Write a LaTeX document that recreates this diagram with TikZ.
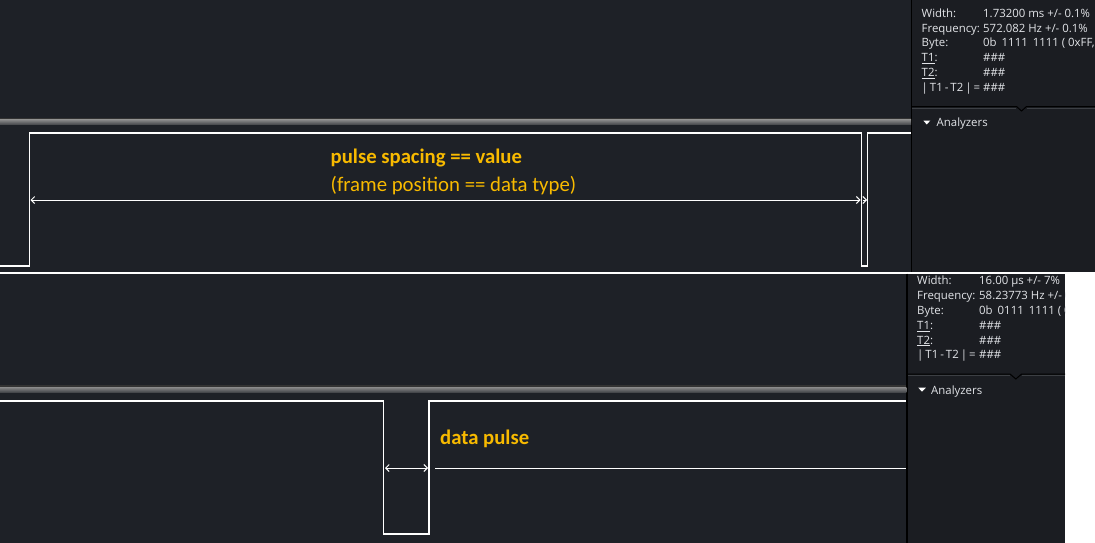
\documentclass[tikz,border=0pt]{standalone}
\usepackage{fontspec}
\setmainfont{Open Sans}
\newfontfamily\calib{Carlito}
\usetikzlibrary{arrows.meta}
\definecolor{bgdark}{RGB}{30,33,39}
\definecolor{paneldark}{RGB}{27,29,34}
\definecolor{gold}{RGB}{248,186,0}
\definecolor{paneltext}{RGB}{226,228,232}
\definecolor{barlight}{RGB}{140,140,140}
\definecolor{bardark}{RGB}{70,72,76}
\definecolor{sepline}{RGB}{60,63,68}
\newcommand{\sk}{\hspace{2pt}}
\newcommand{\bsk}{\hspace{5pt}}
\tikzset{
  sig/.style={draw=white, line width=1.1pt},
  meas/.style={draw=white, line width=1pt},
  tipboth/.style={meas, {Straight Barb[length=3.5pt,width=7pt]}-{Straight Barb[length=3.5pt,width=7pt]}},
  tipright/.style={meas, -{Straight Barb[length=3.5pt,width=7pt]}},
  lbl/.style={anchor=base west, inner sep=0pt, text=paneltext, font=\fontsize{11.4}{13}\selectfont},
  goldbold/.style={anchor=base west, inner sep=0pt, text=gold, font=\calib\bfseries\fontsize{20.7}{24}\selectfont},
  goldreg/.style={anchor=base west, inner sep=0pt, text=gold, font=\calib\fontsize{20.8}{24}\selectfont},
  anz/.style={anchor=base west, inner sep=0pt, text=paneltext, font=\fontsize{11.4}{13}\selectfont},
}
\begin{document}
\begin{tikzpicture}[x=1pt,y=-1pt]
\useasboundingbox (0,0) rectangle (1095,543);
\fill[white] (0,0) rectangle (1095,543);
% ---------- top screenshot ----------
\fill[bgdark] (0,0) rectangle (1095,272);
\fill[paneldark] (911,0) rectangle (1095,272);
\draw[black, line width=1.2pt] (911.5,0) -- (911.5,272);
\fill[black!80] (0,117.5) rectangle (911,119.5);
\shade[top color=barlight, bottom color=bardark] (0,119.5) rectangle (911,124.5);
% panel separator with notch
\draw[black, line width=1pt] (911,106.5) -- (1016.5,106.5) -- (1021.5,111) -- (1026.5,106.5) -- (1095,106.5);
\draw[sepline, line width=0.8pt] (912,108) -- (1016,108);
\draw[sepline, line width=0.8pt] (1027,108) -- (1095,108);
% panel text
\node[lbl] (tw) at (921.5,17.3) {Width:};
\node[lbl] (tf) at (921.5,32.2) {Frequency:};
\node[lbl] (tb) at (921.5,47) {Byte:};
\node[lbl] (tt1) at (921.5,61.8) {\underline{T1}:};
\node[lbl] (tt2) at (921.5,76.6) {\underline{T2}:};
\node[lbl] (td) at (921.5,91.5) {|\sk T1\sk -\sk T2\sk |\sk =};
\begin{scope}
\clip (911,0) rectangle (1095,272);
\node[lbl] (vw) at (983,17.3) {1.73200 ms +/- 0.1\%};
\node[lbl] (vf) at (983,32.2) {572.082 Hz +/- 0.1\%};
\node[lbl] (vb) at (983,47) {0b\bsk 1111\bsk 1111 ( 0xFF,};
\end{scope}
\node[lbl] (vt1) at (983,61.8) {\#\#\#};
\node[lbl] (vt2) at (983,76.6) {\#\#\#};
\node[lbl] (vd) at (983,91.5) {\#\#\#};
\fill[white] (923.3,120.5) -- (930.3,120.5) -- (926.8,124.5) -- cycle;
\node[anz] (ta) at (936.5,126.7) {Analyzers};
% waveform
\coordinate (a0) at (0,266);
\coordinate (a1) at (29.5,266);
\coordinate (a2) at (29.5,133);
\coordinate (a3) at (861.5,133);
\coordinate (a4) at (861.5,266);
\coordinate (a5) at (867.5,266);
\coordinate (a6) at (867.5,133);
\coordinate (a7) at (911,133);
\draw[sig] (a0) -- (a1) -- (a2) -- (a3) -- (a4) -- (a5) -- (a6) -- (a7);
\coordinate (m1) at (30.5,200);
\coordinate (m2) at (860.5,200);
\coordinate (m3) at (862.5,200);
\coordinate (m4) at (867,200);
\draw[tipboth] (m1) -- (m2);
\draw[tipright] (m3) -- (m4);
\node[goldbold] (l1) at (330.5,163.3) {pulse spacing == value};
\node[goldreg] (l2) at (330.5,191.5) {(frame position == data type)};
% ---------- bottom screenshot ----------
\fill[bgdark] (0,273.5) rectangle (1065,543);
\fill[paneldark] (907,273.5) rectangle (1065,543);
\draw[black, line width=1.2pt] (907,273.5) -- (907,543);
\fill[black!80] (0,385) rectangle (906.4,387);
\shade[top color=barlight, bottom color=bardark] (0,387) rectangle (906.4,392);
\draw[black, line width=1pt] (907,374) -- (1010,374) -- (1015.8,379) -- (1021.6,374) -- (1065,374);
\draw[sepline, line width=0.8pt] (908,375.5) -- (1009.5,375.5);
\draw[sepline, line width=0.8pt] (1022,375.5) -- (1065,375.5);
\node[lbl] (bw) at (917,284.2) {Width:};
\node[lbl] (bf) at (917,299.8) {Frequency:};
\node[lbl] (bb) at (917,314.8) {Byte:};
\node[lbl] (bt1) at (917,329.5) {\underline{T1}:};
\node[lbl] (bt2) at (917,344) {\underline{T2}:};
\node[lbl] (bd) at (917,358.5) {|\sk T1\sk -\sk T2\sk |\sk =};
\begin{scope}
\clip (907,273.5) rectangle (1065,543);
\node[lbl] (cw) at (979,284.2) {16.00 µs +/- 7\%};
\node[lbl] (cf) at (979,299.8) {58.23773 Hz +/- 0.1\%};
\node[lbl] (cb) at (979,314.8) {0b\bsk 0111\bsk 1111 ( 0x7F,};
\end{scope}
\node[lbl] (ct1) at (979,329.5) {\#\#\#};
\node[lbl] (ct2) at (979,344) {\#\#\#};
\node[lbl] (cd) at (979,358.5) {\#\#\#};
\fill[white] (918.3,387.7) -- (925.8,387.7) -- (922,391.7) -- cycle;
\node[anz] (ba) at (931,394.3) {Analyzers};
\coordinate (b0) at (0,401);
\coordinate (b1) at (383.5,401);
\coordinate (b2) at (383.5,534);
\coordinate (b3) at (429,534);
\coordinate (b4) at (429,401);
\coordinate (b5) at (906.4,401);
\draw[sig] (b0) -- (b1) -- (b2) -- (b3) -- (b4) -- (b5);
\coordinate (n1) at (385,468);
\coordinate (n2) at (428,468);
\coordinate (n3) at (435,468);
\coordinate (n4) at (906.4,468);
\draw[tipboth] (n1) -- (n2);
\draw[meas] (n3) -- (n4);
\node[goldbold] (l3) at (440,444) {data pulse};
\end{tikzpicture}
\end{document}
